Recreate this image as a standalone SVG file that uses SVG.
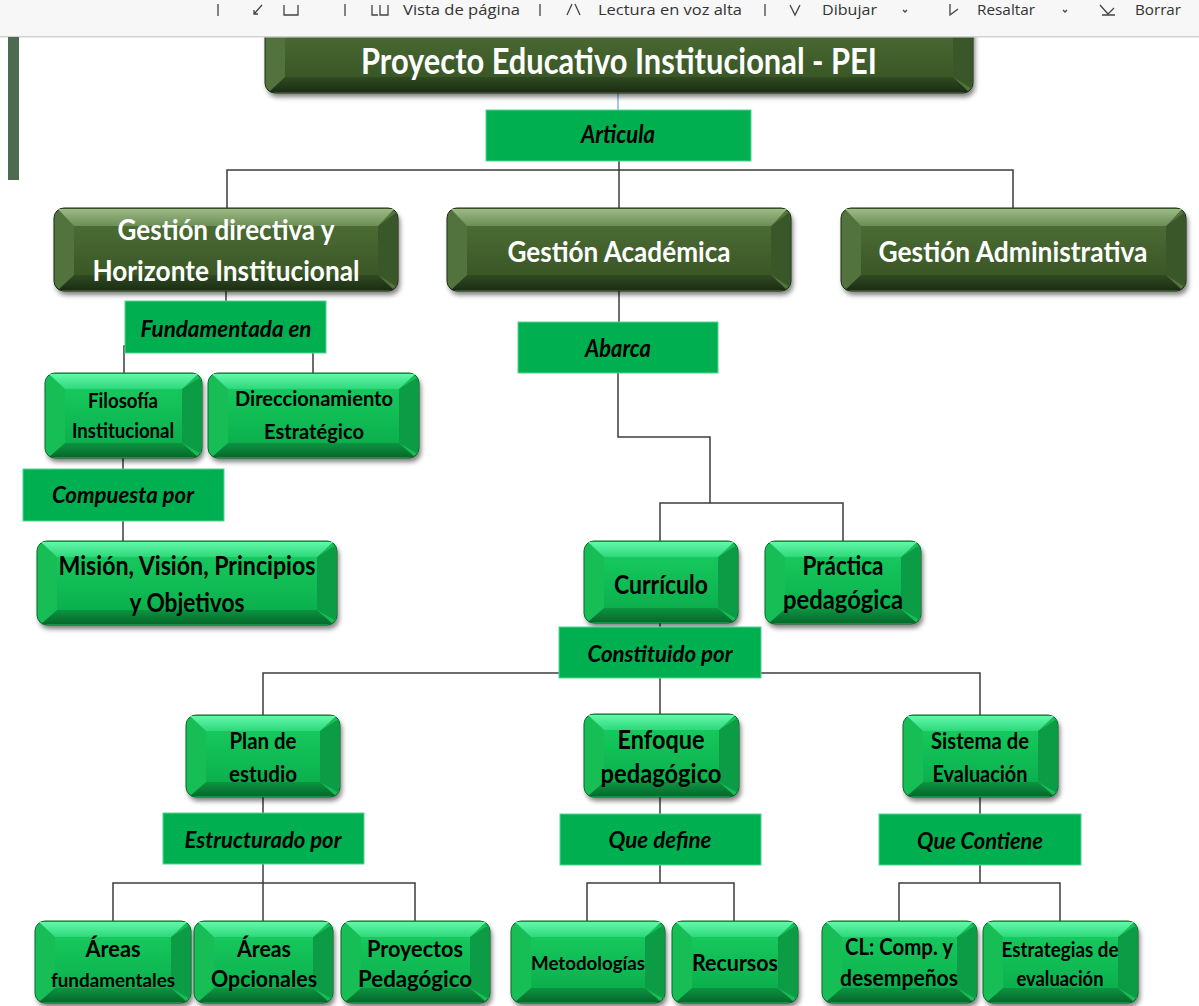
<svg xmlns="http://www.w3.org/2000/svg" width="1199" height="1006" viewBox="0 0 1199 1006">
<defs>
<filter id="blur" x="-10%" y="-20%" width="120%" height="150%"><feGaussianBlur stdDeviation="2.5"/></filter>
<linearGradient id="dTop" x1="0" y1="0" x2="0" y2="1"><stop offset="0" stop-color="#9cba85"/><stop offset="1" stop-color="#6c8e56"/></linearGradient>
<linearGradient id="dFace" x1="0" y1="0" x2="0" y2="1"><stop offset="0" stop-color="#4b6b34"/><stop offset="1" stop-color="#3a5726"/></linearGradient>
<linearGradient id="dBot" x1="0" y1="0" x2="0" y2="1"><stop offset="0" stop-color="#304a23"/><stop offset="1" stop-color="#1c2e13"/></linearGradient>
<linearGradient id="gTop" x1="0" y1="0" x2="0" y2="1"><stop offset="0" stop-color="#62f8aa"/><stop offset="1" stop-color="#2ed87a"/></linearGradient>
<linearGradient id="gFace" x1="0" y1="0" x2="0" y2="1"><stop offset="0" stop-color="#16c85d"/><stop offset="1" stop-color="#0bb04d"/></linearGradient>
<linearGradient id="gBot" x1="0" y1="0" x2="0" y2="1"><stop offset="0" stop-color="#0c9442"/><stop offset="1" stop-color="#06692b"/></linearGradient>
</defs>
<style>
.sh{fill:#000;opacity:.5;filter:url(#blur)}
.D .o{fill:#52733d;stroke:#1c2e12;stroke-width:1}
.D .r{fill:#3a5729}
.D .t{fill:url(#dTop)}
.D .b{fill:url(#dBot)}
.D .f{fill:url(#dFace)}
.G .o{fill:#17bd55;stroke:#0a6a2c;stroke-width:1}
.G .r{fill:#0b9c45}
.G .t{fill:url(#gTop)}
.G .b{fill:url(#gBot)}
.G .f{fill:url(#gFace)}
.L rect{fill:#00b050;stroke:#52d48f;stroke-width:1}
text{font-family:Lato,"Open Sans","Liberation Sans",sans-serif;font-weight:bold;text-anchor:middle}
.wt{fill:#fff}
.bt{fill:#000}
.it{fill:#000;font-style:italic}
.c path{fill:none;stroke:#3c3c3c;stroke-width:1.5}
.tb text{font-family:"Open Sans","Liberation Sans",sans-serif;font-weight:normal;font-size:14px;fill:#333;text-anchor:start}
.tb path{fill:none;stroke:#444;stroke-width:1.3}
</style>
<rect x="0" y="0" width="1199" height="1006" fill="#fff"/>

<g id="connectors" class="c">
<path d="M618,93 V110" style="stroke:#8db3e2"/>
<path d="M619,161 V208"/>
<path d="M227,208 V170 H1013 V208"/>
<path d="M226,291 V301"/>
<path d="M124,373 V346 H313 V373"/>
<path d="M123,458 V469"/>
<path d="M123,521 V541"/>
<path d="M619,291 V322"/>
<path d="M618,373 V437 H710 V503"/>
<path d="M660,542 V503 H843 V541"/>
<path d="M660,623 V627"/>
<path d="M660,678 V714"/>
<path d="M263,715 V673 H980 V715"/>
<path d="M263,797 V813"/>
<path d="M263,864 V921"/>
<path d="M113,921 V883 H415 V921"/>
<path d="M660,797 V814"/>
<path d="M660,865 V883"/>
<path d="M587,921 V883 H734 V921"/>
<path d="M980,797 V814"/>
<path d="M980,865 V883"/>
<path d="M899,921 V883 H1060 V921"/>
</g>

<g id="n-pei" class="D">
<g transform="translate(265,10)">
<rect class="sh" x="2" y="4" width="708" height="83" rx="10"/>
<rect class="o" width="708" height="83" rx="10"/>
<polygon class="r" points="707,4 707,79 688,67 688,18"/>
<polygon class="t" points="4,1 704,1 688,18 20,18"/>
<polygon class="b" points="4,82 704,82 688,67 20,67"/>
<rect class="f" x="20" y="18" width="668" height="49"/>
</g>
<text class="wt" x="619" y="74" font-size="36" textLength="516" lengthAdjust="spacingAndGlyphs">Proyecto Educativo Institucional - PEI</text>
</g>

<g id="toolbar" class="tb">
<rect x="0" y="0" width="1199" height="37" fill="#f7f7f7"/>
<rect x="0" y="36" width="1199" height="1.5" fill="#d2d2d2"/>
<path d="M218,4 V16"/>
<path d="M262,5 L254,14 M254,10 V14 H258"/>
<path d="M284,5 V15 H298 V5"/>
<path d="M345,4 V16"/>
<path d="M372,5 V15 H378 M380,5 V15 H388 V5"/>
<text x="403" y="15" textLength="117" lengthAdjust="spacingAndGlyphs">Vista de página</text>
<path d="M540,4 V16"/>
<path d="M567,15 L572,4 M575,4 L580,15"/>
<text x="598" y="15" textLength="144" lengthAdjust="spacingAndGlyphs">Lectura en voz alta</text>
<path d="M765,4 V16"/>
<path d="M790,5 L795,15 L800,5"/>
<text x="822" y="15" textLength="55" lengthAdjust="spacingAndGlyphs">Dibujar</text>
<path d="M903,10 L905,12 L907,10"/>
<path d="M950,4 V15 L958,9"/>
<text x="977" y="15" textLength="58" lengthAdjust="spacingAndGlyphs">Resaltar</text>
<path d="M1063,10 L1065,12 L1067,10"/>
<path d="M1100,5 L1108,14 L1114,8 M1102,15 H1115"/>
<text x="1135" y="15" textLength="46" lengthAdjust="spacingAndGlyphs">Borrar</text>
</g>
<rect id="sidebar" x="8" y="37" width="11" height="143" fill="#4e6b52"/>

<g id="l-articula" class="L"><rect x="486" y="110" width="265" height="51"/><text class="it" x="618" y="143" font-size="24" textLength="74" lengthAdjust="spacingAndGlyphs">Articula</text></g>

<g id="n-gd" class="D">
<g transform="translate(54,208)">
<rect class="sh" x="2" y="4" width="344" height="83" rx="10"/>
<rect class="o" width="344" height="83" rx="10"/>
<polygon class="r" points="343,4 343,79 324,67 324,18"/>
<polygon class="t" points="4,1 340,1 324,18 20,18"/>
<polygon class="b" points="4,82 340,82 324,67 20,67"/>
<rect class="f" x="20" y="18" width="304" height="49"/>
</g>
<text class="wt" x="226" y="240" font-size="28" textLength="217" lengthAdjust="spacingAndGlyphs">Gestión directiva y</text>
<text class="wt" x="226" y="281" font-size="28" textLength="267" lengthAdjust="spacingAndGlyphs">Horizonte Institucional</text>
</g>

<g id="n-ga" class="D">
<g transform="translate(447,208)">
<rect class="sh" x="2" y="4" width="344" height="83" rx="10"/>
<rect class="o" width="344" height="83" rx="10"/>
<polygon class="r" points="343,4 343,79 324,67 324,18"/>
<polygon class="t" points="4,1 340,1 324,18 20,18"/>
<polygon class="b" points="4,82 340,82 324,67 20,67"/>
<rect class="f" x="20" y="18" width="304" height="49"/>
</g>
<text class="wt" x="619" y="262" font-size="28" textLength="223" lengthAdjust="spacingAndGlyphs">Gestión Académica</text>
</g>

<g id="n-gad" class="D">
<g transform="translate(841,208)">
<rect class="sh" x="2" y="4" width="345" height="83" rx="10"/>
<rect class="o" width="345" height="83" rx="10"/>
<polygon class="r" points="344,4 344,79 325,67 325,18"/>
<polygon class="t" points="4,1 341,1 325,18 20,18"/>
<polygon class="b" points="4,82 341,82 325,67 20,67"/>
<rect class="f" x="20" y="18" width="305" height="49"/>
</g>
<text class="wt" x="1013" y="262" font-size="28" textLength="269" lengthAdjust="spacingAndGlyphs">Gestión Administrativa</text>
</g>

<g id="l-fundamentada" class="L"><rect x="125" y="301" width="201" height="52"/><text class="it" x="226" y="337" font-size="23" textLength="171" lengthAdjust="spacingAndGlyphs">Fundamentada en</text></g>

<g id="n-filosofia" class="G">
<g transform="translate(45,373)">
<rect class="sh" x="2" y="4" width="157" height="85" rx="10"/>
<rect class="o" width="157" height="85" rx="10"/>
<polygon class="r" points="156,4 156,81 137,70 137,16"/>
<polygon class="t" points="4,1 153,1 137,16 20,16"/>
<polygon class="b" points="4,84 153,84 137,70 20,70"/>
<rect class="f" x="20" y="16" width="117" height="54"/>
</g>
<text class="bt" x="123" y="408" font-size="21" textLength="70" lengthAdjust="spacingAndGlyphs">Filosofía</text>
<text class="bt" x="123" y="438" font-size="21" textLength="102" lengthAdjust="spacingAndGlyphs">Institucional</text>
</g>

<g id="n-direccionamiento" class="G">
<g transform="translate(208,373)">
<rect class="sh" x="2" y="4" width="211" height="85" rx="10"/>
<rect class="o" width="211" height="85" rx="10"/>
<polygon class="r" points="210,4 210,81 191,70 191,16"/>
<polygon class="t" points="4,1 207,1 191,16 20,16"/>
<polygon class="b" points="4,84 207,84 191,70 20,70"/>
<rect class="f" x="20" y="16" width="171" height="54"/>
</g>
<text class="bt" x="314" y="406" font-size="21" textLength="158" lengthAdjust="spacingAndGlyphs">Direccionamiento</text>
<text class="bt" x="314" y="439" font-size="21" textLength="100" lengthAdjust="spacingAndGlyphs">Estratégico</text>
</g>

<g id="l-compuesta" class="L"><rect x="23" y="469" width="201" height="52"/><text class="it" x="123" y="503" font-size="23" textLength="142" lengthAdjust="spacingAndGlyphs">Compuesta por</text></g>

<g id="n-mision" class="G">
<g transform="translate(37,541)">
<rect class="sh" x="2" y="4" width="300" height="84" rx="10"/>
<rect class="o" width="300" height="84" rx="10"/>
<polygon class="r" points="299,4 299,80 280,69 280,16"/>
<polygon class="t" points="4,1 296,1 280,16 20,16"/>
<polygon class="b" points="4,83 296,83 280,69 20,69"/>
<rect class="f" x="20" y="16" width="260" height="53"/>
</g>
<text class="bt" x="187" y="575" font-size="27" textLength="257" lengthAdjust="spacingAndGlyphs">Misión, Visión, Principios</text>
<text class="bt" x="187" y="612" font-size="27" textLength="115" lengthAdjust="spacingAndGlyphs">y Objetivos</text>
</g>

<g id="l-abarca" class="L"><rect x="518" y="322" width="200" height="51"/><text class="it" x="618" y="357" font-size="24" textLength="66" lengthAdjust="spacingAndGlyphs">Abarca</text></g>

<g id="n-curriculo" class="G">
<g transform="translate(584,541)">
<rect class="sh" x="2" y="4" width="154" height="82" rx="10"/>
<rect class="o" width="154" height="82" rx="10"/>
<polygon class="r" points="153,4 153,78 134,67 134,16"/>
<polygon class="t" points="4,1 150,1 134,16 20,16"/>
<polygon class="b" points="4,81 150,81 134,67 20,67"/>
<rect class="f" x="20" y="16" width="114" height="51"/>
</g>
<text class="bt" x="661" y="594" font-size="26" textLength="94" lengthAdjust="spacingAndGlyphs">Currículo</text>
</g>

<g id="n-practica" class="G">
<g transform="translate(765,541)">
<rect class="sh" x="2" y="4" width="156" height="83" rx="10"/>
<rect class="o" width="156" height="83" rx="10"/>
<polygon class="r" points="155,4 155,79 136,68 136,16"/>
<polygon class="t" points="4,1 152,1 136,16 20,16"/>
<polygon class="b" points="4,82 152,82 136,68 20,68"/>
<rect class="f" x="20" y="16" width="116" height="52"/>
</g>
<text class="bt" x="843" y="575" font-size="26" textLength="81" lengthAdjust="spacingAndGlyphs">Práctica</text>
<text class="bt" x="843" y="609" font-size="26" textLength="120" lengthAdjust="spacingAndGlyphs">pedagógica</text>
</g>

<g id="l-constituido" class="L"><rect x="559" y="627" width="202" height="51"/><text class="it" x="660" y="662" font-size="23" textLength="145" lengthAdjust="spacingAndGlyphs">Constituido por</text></g>

<g id="n-plan" class="G">
<g transform="translate(186,715)">
<rect class="sh" x="2" y="4" width="154" height="82" rx="10"/>
<rect class="o" width="154" height="82" rx="10"/>
<polygon class="r" points="153,4 153,78 134,67 134,16"/>
<polygon class="t" points="4,1 150,1 134,16 20,16"/>
<polygon class="b" points="4,81 150,81 134,67 20,67"/>
<rect class="f" x="20" y="16" width="114" height="51"/>
</g>
<text class="bt" x="263" y="749" font-size="22" textLength="67" lengthAdjust="spacingAndGlyphs">Plan de</text>
<text class="bt" x="263" y="782" font-size="22" textLength="68" lengthAdjust="spacingAndGlyphs">estudio</text>
</g>

<g id="n-enfoque" class="G">
<g transform="translate(584,714)">
<rect class="sh" x="2" y="4" width="155" height="83" rx="10"/>
<rect class="o" width="155" height="83" rx="10"/>
<polygon class="r" points="154,4 154,79 135,68 135,16"/>
<polygon class="t" points="4,1 151,1 135,16 20,16"/>
<polygon class="b" points="4,82 151,82 135,68 20,68"/>
<rect class="f" x="20" y="16" width="115" height="52"/>
</g>
<text class="bt" x="661" y="749" font-size="26" textLength="87" lengthAdjust="spacingAndGlyphs">Enfoque</text>
<text class="bt" x="661" y="783" font-size="26" textLength="121" lengthAdjust="spacingAndGlyphs">pedagógico</text>
</g>

<g id="n-sistema" class="G">
<g transform="translate(903,715)">
<rect class="sh" x="2" y="4" width="155" height="82" rx="10"/>
<rect class="o" width="155" height="82" rx="10"/>
<polygon class="r" points="154,4 154,78 135,67 135,16"/>
<polygon class="t" points="4,1 151,1 135,16 20,16"/>
<polygon class="b" points="4,81 151,81 135,67 20,67"/>
<rect class="f" x="20" y="16" width="115" height="51"/>
</g>
<text class="bt" x="980" y="749" font-size="23" textLength="98" lengthAdjust="spacingAndGlyphs">Sistema de</text>
<text class="bt" x="980" y="782" font-size="23" textLength="95" lengthAdjust="spacingAndGlyphs">Evaluación</text>
</g>

<g id="l-estructurado" class="L"><rect x="163" y="813" width="201" height="51"/><text class="it" x="263" y="848" font-size="23" textLength="157" lengthAdjust="spacingAndGlyphs">Estructurado por</text></g>
<g id="l-quedefine" class="L"><rect x="560" y="814" width="201" height="51"/><text class="it" x="660" y="848" font-size="23" textLength="103" lengthAdjust="spacingAndGlyphs">Que define</text></g>
<g id="l-quecontiene" class="L"><rect x="879" y="814" width="202" height="51"/><text class="it" x="980" y="849" font-size="23" textLength="126" lengthAdjust="spacingAndGlyphs">Que Contiene</text></g>

<g id="n-areasf" class="G">
<g transform="translate(35,921)">
<rect class="sh" x="2" y="4" width="156" height="82" rx="10"/>
<rect class="o" width="156" height="82" rx="10"/>
<polygon class="r" points="155,4 155,78 136,67 136,16"/>
<polygon class="t" points="4,1 152,1 136,16 20,16"/>
<polygon class="b" points="4,81 152,81 136,67 20,67"/>
<rect class="f" x="20" y="16" width="116" height="51"/>
</g>
<text class="bt" x="113" y="957" font-size="23" textLength="55" lengthAdjust="spacingAndGlyphs">Áreas</text>
<text class="bt" x="113" y="987" font-size="19" textLength="124" lengthAdjust="spacingAndGlyphs">fundamentales</text>
</g>

<g id="n-areaso" class="G">
<g transform="translate(194,921)">
<rect class="sh" x="2" y="4" width="139" height="82" rx="10"/>
<rect class="o" width="139" height="82" rx="10"/>
<polygon class="r" points="138,4 138,78 119,67 119,16"/>
<polygon class="t" points="4,1 135,1 119,16 20,16"/>
<polygon class="b" points="4,81 135,81 119,67 20,67"/>
<rect class="f" x="20" y="16" width="99" height="51"/>
</g>
<text class="bt" x="264" y="957" font-size="23" textLength="54" lengthAdjust="spacingAndGlyphs">Áreas</text>
<text class="bt" x="264" y="987" font-size="23" textLength="106" lengthAdjust="spacingAndGlyphs">Opcionales</text>
</g>

<g id="n-proyectos" class="G">
<g transform="translate(341,921)">
<rect class="sh" x="2" y="4" width="149" height="82" rx="10"/>
<rect class="o" width="149" height="82" rx="10"/>
<polygon class="r" points="148,4 148,78 129,67 129,16"/>
<polygon class="t" points="4,1 145,1 129,16 20,16"/>
<polygon class="b" points="4,81 145,81 129,67 20,67"/>
<rect class="f" x="20" y="16" width="109" height="51"/>
</g>
<text class="bt" x="415" y="957" font-size="23" textLength="96" lengthAdjust="spacingAndGlyphs">Proyectos</text>
<text class="bt" x="415" y="987" font-size="23" textLength="114" lengthAdjust="spacingAndGlyphs">Pedagógico</text>
</g>

<g id="n-metodologias" class="G">
<g transform="translate(511,921)">
<rect class="sh" x="2" y="4" width="154" height="82" rx="10"/>
<rect class="o" width="154" height="82" rx="10"/>
<polygon class="r" points="153,4 153,78 134,67 134,16"/>
<polygon class="t" points="4,1 150,1 134,16 20,16"/>
<polygon class="b" points="4,81 150,81 134,67 20,67"/>
<rect class="f" x="20" y="16" width="114" height="51"/>
</g>
<text class="bt" x="588" y="970" font-size="19" textLength="114" lengthAdjust="spacingAndGlyphs">Metodologías</text>
</g>

<g id="n-recursos" class="G">
<g transform="translate(672,921)">
<rect class="sh" x="2" y="4" width="126" height="82" rx="10"/>
<rect class="o" width="126" height="82" rx="10"/>
<polygon class="r" points="125,4 125,78 106,67 106,16"/>
<polygon class="t" points="4,1 122,1 106,16 20,16"/>
<polygon class="b" points="4,81 122,81 106,67 20,67"/>
<rect class="f" x="20" y="16" width="86" height="51"/>
</g>
<text class="bt" x="735" y="971" font-size="23" textLength="86" lengthAdjust="spacingAndGlyphs">Recursos</text>
</g>

<g id="n-cl" class="G">
<g transform="translate(822,921)">
<rect class="sh" x="2" y="4" width="155" height="82" rx="10"/>
<rect class="o" width="155" height="82" rx="10"/>
<polygon class="r" points="154,4 154,78 135,67 135,16"/>
<polygon class="t" points="4,1 151,1 135,16 20,16"/>
<polygon class="b" points="4,81 151,81 135,67 20,67"/>
<rect class="f" x="20" y="16" width="115" height="51"/>
</g>
<text class="bt" x="899" y="955" font-size="23" textLength="108" lengthAdjust="spacingAndGlyphs">CL: Comp. y</text>
<text class="bt" x="899" y="986" font-size="23" textLength="118" lengthAdjust="spacingAndGlyphs">desempeños</text>
</g>

<g id="n-estrategias" class="G">
<g transform="translate(983,921)">
<rect class="sh" x="2" y="4" width="155" height="82" rx="10"/>
<rect class="o" width="155" height="82" rx="10"/>
<polygon class="r" points="154,4 154,78 135,67 135,16"/>
<polygon class="t" points="4,1 151,1 135,16 20,16"/>
<polygon class="b" points="4,81 151,81 135,67 20,67"/>
<rect class="f" x="20" y="16" width="115" height="51"/>
</g>
<text class="bt" x="1060" y="957" font-size="20" textLength="117" lengthAdjust="spacingAndGlyphs">Estrategias de</text>
<text class="bt" x="1060" y="986" font-size="20" textLength="87" lengthAdjust="spacingAndGlyphs">evaluación</text>
</g>
</svg>
